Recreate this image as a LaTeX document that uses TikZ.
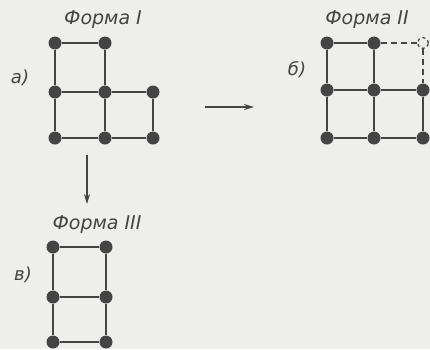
\documentclass[tikz,border=0pt]{standalone}
\usepackage{fontspec}
\setmainfont{DejaVu Sans}
\usetikzlibrary{arrows.meta}
\definecolor{ink}{RGB}{68,68,68}
\definecolor{paper}{RGB}{238,238,236}
\begin{document}
\begin{tikzpicture}[x=1pt,y=-1pt,
  dot/.style={circle,fill=ink,inner sep=0pt,minimum size=13pt},
  hollow/.style={circle,draw=ink,dashed,line width=1.3pt,fill=paper,inner sep=0pt,minimum size=11pt},
  edge/.style={draw=ink,line width=2.2pt},
  dedge/.style={draw=ink,line width=2pt,dash pattern=on 6pt off 4pt},
  title/.style={font=\fontsize{19}{21}\selectfont\itshape,text=ink},
  lab/.style={font=\fontsize{18}{20}\selectfont\itshape,text=ink},
  arr/.style={draw=ink,line width=2pt,-{Stealth[length=10pt,width=6pt]}}]
\fill[paper] (0,0) rectangle (430,349);
\useasboundingbox (0,0) rectangle (430,349);
% Form I
\node[title] (t1) at (103,20) {Форма I};
\node[lab] (l1) at (20,78) {а)};
\node[dot] (a11) at (55,43) {};
\node[dot] (a12) at (105,43) {};
\node[dot] (a21) at (55,92) {};
\node[dot] (a22) at (105,92) {};
\node[dot] (a23) at (153,92) {};
\node[dot] (a31) at (55,138) {};
\node[dot] (a32) at (105,138) {};
\node[dot] (a33) at (153,138) {};
\path[edge] (a11) -- (a12) (a21) -- (a22) -- (a23) (a31) -- (a32) -- (a33)
  (a11) -- (a21) -- (a31) (a12) -- (a22) -- (a32) (a23) -- (a33);
% Form II
\node[title] (t2) at (367,20) {Форма II};
\node[lab] (l2) at (297,70) {б)};
\node[dot] (b11) at (327,43) {};
\node[dot] (b12) at (374,43) {};
\node[hollow] (b13) at (423,43) {};
\node[dot] (b21) at (327,90) {};
\node[dot] (b22) at (374,90) {};
\node[dot] (b23) at (423,90) {};
\node[dot] (b31) at (327,138) {};
\node[dot] (b32) at (374,138) {};
\node[dot] (b33) at (423,138) {};
\path[edge] (b11) -- (b12) (b21) -- (b22) -- (b23) (b31) -- (b32) -- (b33)
  (b11) -- (b21) -- (b31) (b12) -- (b22) -- (b32) (b23) -- (b33);
\path[dedge] (b12) -- (b13) (b13) -- (b23);
% Form III
\node[title] (t3) at (97,225) {Форма III};
\node[lab] (l3) at (23,275) {в)};
\node[dot] (c11) at (53,247) {};
\node[dot] (c12) at (106,247) {};
\node[dot] (c21) at (53,297) {};
\node[dot] (c22) at (106,297) {};
\node[dot] (c31) at (53,342) {};
\node[dot] (c32) at (106,342) {};
\path[edge] (c11) -- (c12) (c21) -- (c22) (c31) -- (c32)
  (c11) -- (c21) -- (c31) (c12) -- (c22) -- (c32);
% arrows
\coordinate (h1) at (205,107);
\coordinate (h2) at (254,107);
\coordinate (v1) at (87,155);
\coordinate (v2) at (87,204);
\draw[arr] (h1) -- (h2);
\draw[arr] (v1) -- (v2);
\end{tikzpicture}
\end{document}
